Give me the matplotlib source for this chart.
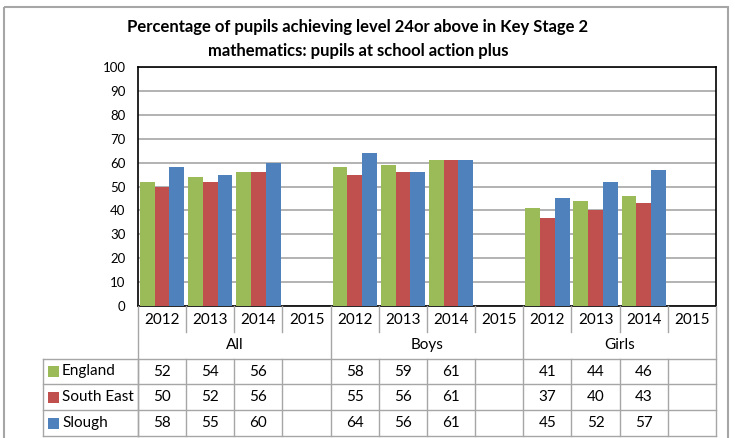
import matplotlib
matplotlib.use("Agg")
import matplotlib.pyplot as plt
from matplotlib.patches import Rectangle

plt.rcParams['font.family'] = ['Lato', 'DejaVu Sans']

groups = ["All", "Boys", "Girls"]
years = ["2012", "2013", "2014", "2015"]
series = ["England", "South East", "Slough"]
england = [52, 54, 56, None, 58, 59, 61, None, 41, 44, 46, None]
south_east = [50, 52, 56, None, 55, 56, 61, None, 37, 40, 43, None]
slough = [58, 55, 60, None, 64, 56, 61, None, 45, 52, 57, None]
colors = ["#9BBB59", "#C0504D", "#4F81BD"]
title = "Percentage of pupils achieving level 24or above in Key Stage 2\nmathematics: pupils at school action plus"

W, H = 735, 438
fig = plt.figure(figsize=(W / 100, H / 100), dpi=100)

# pixel geometry
PL, PR, PT, PB = 138, 716, 67, 306
ax = fig.add_axes([PL / W, 1 - PB / H, (PR - PL) / W, (PB - PT) / H])

data = [england, south_east, slough]
ncat = len(england)
bw = 0.92 / 3
for s, (vals, col) in enumerate(zip(data, colors)):
    xs = [i + 0.5 + (s - 1) * bw for i in range(ncat) if vals[i] is not None]
    ys = [v for v in vals if v is not None]
    ax.bar(xs, ys, width=bw, color=col, edgecolor="none", zorder=3)

ax.set_xlim(0, ncat)
ax.set_ylim(0, 100)
ax.set_yticks(range(0, 101, 10))
ax.set_xticks([])
ax.tick_params(axis='y', length=0, labelsize=9.5, pad=9)
ax.grid(axis='y', color="#A6A6A6", linewidth=1.2, zorder=0)
for sp in ax.spines.values():
    sp.set_color("black")
    sp.set_linewidth(1.2)

# overlay for table and frame (pixel coordinates)
ov = fig.add_axes([0, 0, 1, 1], zorder=-1)
ov.set_xlim(0, W)
ov.set_ylim(H, 0)
ov.axis('off')
ov2 = fig.add_axes([0, 0, 1, 1], zorder=5)
ov2.set_xlim(0, W)
ov2.set_ylim(H, 0)
ov2.axis('off')
ov2.patch.set_alpha(0)

# outer chart frame
ov.add_patch(Rectangle((4, 7), 724, 440, fill=False, edgecolor="#A6A6A6", linewidth=1.5))

ov2.text(358, 39, title, ha='center', va='center', fontsize=12, fontweight='bold',
         linespacing=1.55)

gc = "#A6A6A6"
lw = 1.0
cw = (PR - PL) / ncat
row_y = [359, 384, 410, 436]
TL = 43
fs = 11
# year labels & separators
for i in range(ncat):
    xc = PL + cw * (i + 0.5)
    ov2.text(xc, 320, years[i % 4], ha='center', va='center', fontsize=fs)
for i in range(ncat + 1):
    x = PL + cw * i
    if i % 4 == 0:
        ov2.plot([x, x], [PB, row_y[-1]], color=gc, lw=lw)
    else:
        ov2.plot([x, x], [PB, 332], color=gc, lw=lw)
        ov2.plot([x, x], [row_y[0], row_y[-1]], color=gc, lw=lw)
for g, name in enumerate(groups):
    xc = PL + cw * (4 * g + 2)
    ov2.text(xc, 345, name, ha='center', va='center', fontsize=fs)
# horizontal rows
for y in row_y:
    ov2.plot([TL, PR], [y, y], color=gc, lw=lw)
ov2.plot([TL, TL], [row_y[0], row_y[-1]], color=gc, lw=lw)
ov2.plot([PL, PL], [row_y[0], row_y[-1]], color=gc, lw=lw)
# table rows
for s, (name, vals, col) in enumerate(zip(series, data, colors)):
    yc = (row_y[s] + row_y[s + 1]) / 2
    ov2.add_patch(Rectangle((48, yc - 5.5), 11, 11, facecolor=col, edgecolor='none'))
    ov2.text(62, yc, name, ha='left', va='center', fontsize=fs)
    for i, v in enumerate(vals):
        if v is not None:
            ov2.text(PL + cw * (i + 0.5), yc, str(v), ha='center', va='center', fontsize=fs)

fig.savefig("out.png", dpi=100)
